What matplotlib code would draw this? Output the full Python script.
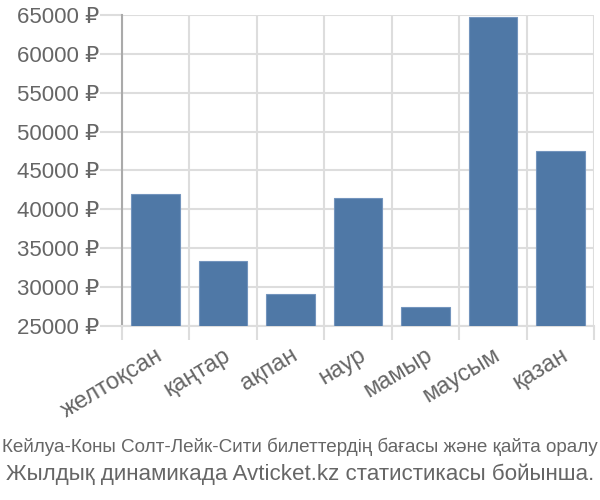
import matplotlib.pyplot as plt
from matplotlib.ticker import FixedLocator

months = ['желтоқсан', 'қаңтар', 'ақпан', 'наур', 'мамыр', 'маусым', 'қазан']
prices = [42000, 33300, 29100, 41400, 27500, 64700, 47500]
yticks = [25000, 30000, 35000, 40000, 45000, 50000, 55000, 60000, 65000]

line1 = 'Кейлуа-Коны Солт-Лейк-Сити билеттердің бағасы және қайта оралу'
line2 = 'Жылдық динамикада Avticket.kz статистикасы бойынша.'

plt.rcParams['font.family'] = ['Liberation Sans', 'DejaVu Sans']

fig = plt.figure(figsize=(6, 5), dpi=100)
ax = fig.add_axes([0.2033, 0.348, 0.7867, 0.622])

x = list(range(len(months)))
ax.bar(x, prices, width=0.72, bottom=0, color='#4f78a6',
       edgecolor='#7394bd', linewidth=0.8, zorder=3)

ax.set_xlim(-0.5, len(months) - 0.5)
ax.set_ylim(25000, 65000)

ax.set_yticks(yticks)
ax.set_yticklabels([f'{v} ₽' for v in yticks])
ax.set_xticks(x)
ax.set_xticklabels(months, rotation=31, ha='right', rotation_mode='anchor')
ax.xaxis.set_minor_locator(FixedLocator([i - 0.5 for i in range(len(months) + 1)]))

ax.tick_params(axis='x', which='major', length=0, pad=13, labelsize=17, labelcolor='#666666')
ax.tick_params(axis='x', which='minor', length=10, width=1.5, color='#dddddd')
ax.tick_params(axis='y', length=15.5, width=1.5, color='#dddddd', pad=1,
               labelsize=16, labelcolor='#666666')

ax.grid(True, axis='y', color='#dddddd', linewidth=1.5, zorder=0)
ax.grid(True, axis='x', which='minor', color='#dddddd', linewidth=1.5, zorder=0)
ax.grid(False, axis='x', which='major')

for s in ['top', 'right']:
    ax.spines[s].set_visible(False)
ax.spines['left'].set_color('#aaaaaa')
ax.spines['left'].set_linewidth(1.5)
ax.spines['bottom'].set_color('#dddddd')
ax.spines['bottom'].set_linewidth(1.5)

fig.text(0.5, 1 - 447 / 500, line1, ha='center', va='center', fontsize=13.6,
         color='#666666')
fig.text(0.5, 1 - 474 / 500, line2, ha='center', va='center', fontsize=16.1,
         color='#666666')

fig.savefig('out.png', dpi=100)
